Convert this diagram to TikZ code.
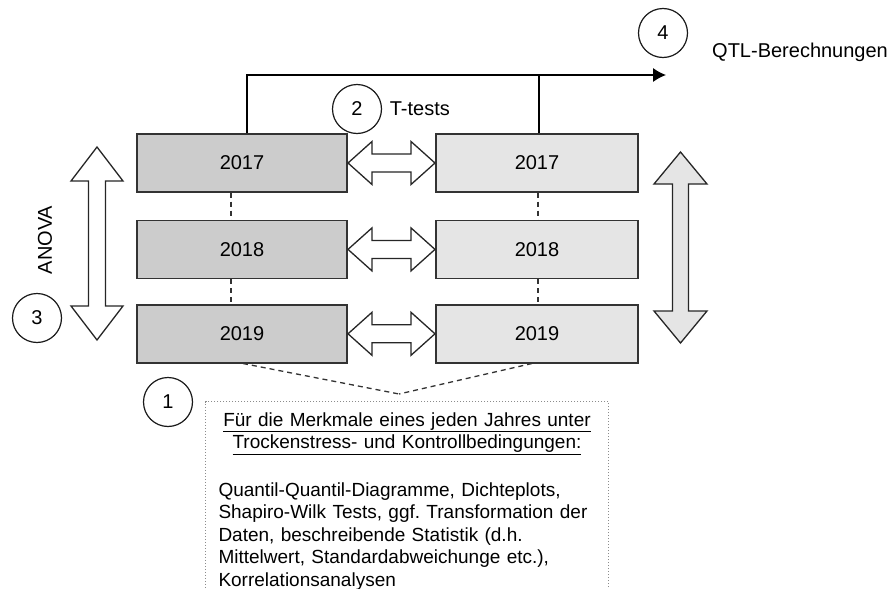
\documentclass[tikz,border=0pt]{standalone}
\usepackage{fontspec}
\setmainfont{Liberation Sans}
\usetikzlibrary{arrows.meta, positioning, calc}
\tikzset{
  yearL/.style={rectangle, draw=black!80, fill=black!20, line width=1.4pt,
                minimum width=210pt, minimum height=58pt, font=\fontsize{20}{24}\selectfont},
  yearR/.style={yearL, fill=black!10, minimum width=202pt},
  numc/.style={circle, draw=black!90, line width=1.2pt, minimum size=49pt,
               inner sep=0pt, font=\fontsize{20}{24}\selectfont},
  % double arrow: half length / head length / head half width / shaft half width
  pics/dblarrow/.style args={#1/#2/#3/#4}{code={
    \path[pic actions] (-#1,0) -- (-#1+#2,-#3) -- (-#1+#2,-#4) -- (#1-#2,-#4)
      -- (#1-#2,-#3) -- (#1,0) -- (#1-#2,#3) -- (#1-#2,#4) -- (-#1+#2,#4)
      -- (-#1+#2,#3) -- cycle;
  }},
  arrshape/.style={draw=black!85, line width=1.3pt, line join=miter},
  dashline/.style={draw=black!80, line width=1.3pt, dash pattern=on 5pt off 4pt},
  arrow/.style={-{Latex[length=13pt, width=14pt]}, line width=1.2pt},
  lbl/.style={inner sep=0pt, anchor=west, font=\fontsize{20}{24}\selectfont},
  infobox/.style={draw=black!45, line width=1pt, dotted, anchor=north west,
                  text width=377pt, inner xsep=13pt, inner ysep=11pt,
                  font=\fontsize{19}{22.5}\selectfont},
}

\begin{document}
\begin{tikzpicture}[x=1pt, y=-1pt]
  \useasboundingbox (0,0) rectangle (895,589);
  \clip (0,0) rectangle (895,589);

  % year boxes
  \node[yearL] (l17) at (242,163) {2017};
  \node[yearL, below=27pt of l17] (l18) {2018};
  \node[yearL, below=25pt of l18] (l19) {2019};
  \node[yearR] (r17) at (537,163) {2017};
  \node[yearR, below=27pt of r17] (r18) {2018};
  \node[yearR, below=25pt of r18] (r19) {2019};

  % t-tests between the years
  \pic[arrshape, fill=white] at ($(l17.east)!0.5!(r17.west)$) {dblarrow={43.5/24/21.5/9}};
  \pic[arrshape, fill=white] at ($(l18.east)!0.5!(r18.west)$) {dblarrow={43.5/24/21.5/9}};
  \pic[arrshape, fill=white] at ($(l19.east)!0.5!(r19.west)$) {dblarrow={43.5/24/21.5/9}};

  % anova arrows
  \pic[arrshape, fill=white, rotate=90] at (97,243.5) {dblarrow={96.5/34/26/8.5}};
  \pic[arrshape, fill=black!10, rotate=90] at (680.5,247.5) {dblarrow={95.5/32/26.5/8}};

  % numbers and labels
  \node[numc] (c4) at (663,33) {4};
  \node[lbl] (qtl) at (712,52) {QTL-Berechnungen};
  \node[numc] (c2) at (357,109) {2};
  \node[lbl, right=7.5pt of c2] (tt) {T-tests};
  \node[numc] (c3) at (37,318) {3};
  \node[lbl, rotate=90, anchor=center] (anova) at (45,240) {ANOVA};
  \node[numc] (c1) at (168,402) {1};

  % description
  \node[infobox] (info) at (205,401) {\frenchspacing
    \centering\underline{Für die Merkmale eines jeden Jahres unter}\\
    \underline{Trockenstress- und Kontrollbedingungen:}\par
    \vspace{25pt}\raggedright
    Quantil-Quantil-Diagramme, Dichteplots,\\
    Shapiro-Wilk Tests, ggf. Transformation der\\
    Daten, beschreibende Statistik (d.h.\\
    Mittelwert, Standardabweichunge etc.),\\
    Korrelationsanalysen};
  \coordinate (meet) at (399,394);
  \coordinate (qtlend) at (666,75);
  \coordinate (ltop) at ($(l17.north)+(5,0)$);
  \coordinate (rtop) at ($(r17.north)+(2,0)$);

  % connectors
  \draw[dashline] ($(l17.south)+(-11,0)$) -- ($(l18.north)+(-11,0)$);
  \draw[dashline] ($(l18.south)+(-11,0)$) -- ($(l19.north)+(-11,0)$);
  \draw[dashline] ($(r17.south)+(1,0)$) -- ($(r18.north)+(1,0)$);
  \draw[dashline] ($(r18.south)+(1,0)$) -- ($(r19.north)+(1,0)$);
  \draw[dashline] ($(l19.south)+(1,0)$) -- (meet);
  \draw[dashline] ($(r19.south)+(-5,0)$) -- (meet);
  \draw[arrow] (ltop) |- (qtlend);
  \draw[line width=1.2pt] (rtop) -- (rtop |- qtlend);
\end{tikzpicture}
\end{document}
